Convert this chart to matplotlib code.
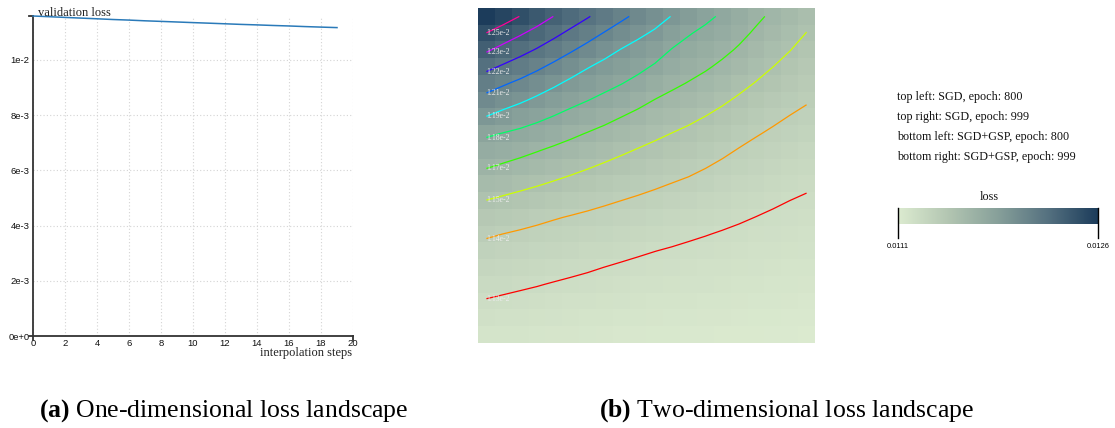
import numpy as np
import matplotlib
matplotlib.use("Agg")
import matplotlib.pyplot as plt
from matplotlib.colors import LinearSegmentedColormap, hsv_to_rgb

# ---------------- data: (a) one-dimensional loss landscape ----------------
steps = list(range(20))
val_loss = [0.011584, 0.011559, 0.011533, 0.011508, 0.011483, 0.011457, 0.011436, 0.011410, 0.011389, 0.011367,
            0.011345, 0.011324, 0.011302, 0.011280, 0.011262, 0.011241, 0.011223, 0.011201, 0.011182, 0.011164]
x_ticks = list(range(0, 21, 2))
y_ticks = [0, 0.002, 0.004, 0.006, 0.008, 0.010]
y_tick_labels = ["0e+0", "2e-3", "4e-3", "6e-3", "8e-3", "1e-2"]

# ---------------- data: (b) two-dimensional loss landscape ----------------
# loss = 0.011 + value * 1e-6, rows top -> bottom, columns left -> right
loss_rows = [
    [1610, 1546, 1481, 1413, 1345, 1282, 1221, 1161, 1102, 1045, 989, 934, 883, 832, 783, 735, 688, 644, 602, 560],
    [1482, 1422, 1363, 1304, 1244, 1183, 1126, 1069, 1013, 964, 921, 863, 812, 771, 737, 694, 649, 606, 567, 527],
    [1364, 1306, 1254, 1201, 1144, 1089, 1035, 981, 933, 894, 855, 797, 756, 724, 691, 652, 608, 568, 532, 495],
    [1244, 1195, 1148, 1099, 1048, 996, 946, 904, 868, 833, 789, 740, 708, 679, 644, 606, 566, 530, 496, 463],
    [1133, 1089, 1048, 1004, 958, 912, 873, 840, 806, 767, 724, 688, 659, 629, 594, 558, 524, 491, 459, 431],
    [1032, 993, 956, 915, 875, 838, 805, 771, 736, 698, 662, 634, 606, 576, 545, 513, 481, 451, 423, 401],
    [935, 896, 862, 830, 797, 763, 731, 698, 666, 635, 605, 579, 553, 527, 499, 468, 439, 412, 390, 372],
    [821, 797, 775, 749, 718, 688, 659, 632, 604, 576, 551, 527, 505, 481, 454, 425, 400, 379, 360, 344],
    [739, 719, 697, 671, 645, 620, 595, 571, 546, 522, 500, 479, 459, 437, 412, 387, 366, 348, 331, 316],
    [671, 648, 625, 602, 580, 558, 536, 513, 491, 471, 452, 434, 416, 396, 374, 353, 335, 318, 304, 291],
    [597, 576, 557, 538, 518, 498, 477, 457, 439, 423, 407, 391, 376, 358, 339, 321, 305, 291, 278, 267],
    [527, 509, 492, 474, 456, 438, 422, 407, 393, 379, 365, 351, 337, 322, 306, 292, 278, 267, 256, 247],
    [462, 446, 430, 415, 400, 387, 375, 363, 351, 338, 325, 313, 300, 288, 276, 265, 255, 245, 236, 228],
    [405, 392, 380, 368, 356, 345, 334, 323, 311, 300, 288, 278, 268, 259, 250, 242, 233, 225, 218, 211],
    [360, 349, 338, 328, 318, 308, 298, 287, 276, 266, 257, 249, 241, 234, 228, 221, 214, 207, 201, 195],
    [321, 311, 302, 293, 284, 274, 265, 255, 246, 238, 230, 224, 218, 213, 207, 202, 196, 190, 185, 180],
    [286, 277, 268, 260, 251, 243, 235, 228, 220, 213, 207, 202, 198, 193, 189, 184, 179, 174, 170, 165],
    [251, 243, 236, 229, 222, 216, 209, 203, 197, 191, 186, 182, 178, 174, 170, 166, 162, 158, 154, 151],
    [218, 212, 206, 201, 195, 190, 185, 180, 174, 169, 165, 162, 159, 155, 152, 149, 145, 142, 139, 136],
    [185, 181, 177, 172, 168, 164, 160, 156, 151, 147, 144, 141, 138, 136, 133, 131, 128, 125, 123, 120],
]
contour_levels = [0.011256, 0.011393, 0.011529, 0.011665, 0.011802, 0.011938, 0.012075, 0.012211, 0.012347, 0.012484]
contour_labels = ["1.13e-2", "1.14e-2", "1.15e-2", "1.17e-2", "1.18e-2", "1.19e-2", "1.21e-2", "1.22e-2", "1.23e-2", "1.25e-2"]
legend_lines = ["top left: SGD, epoch: 800", "top right: SGD, epoch: 999",
                "bottom left: SGD+GSP, epoch: 800", "bottom right: SGD+GSP, epoch: 999"]
cbar_min, cbar_max = "0.0111", "0.0126"
loss_min, loss_max = 0.01111, 0.01262

loss_grid = 0.011 + np.array(loss_rows, dtype=float) * 1e-6

# ---------------- figure ----------------
W, H = 1115, 428
plt.rcParams['font.family'] = 'Liberation Serif'
plt.rcParams['mathtext.fontset'] = 'custom'
plt.rcParams['mathtext.rm'] = 'Liberation Serif'
plt.rcParams['mathtext.bf'] = 'Liberation Serif:bold'
fig = plt.figure(figsize=(W / 100, H / 100), dpi=100)


def fx(px):
    return px / W


def fy(py):
    return 1 - py / H


# (a)
ax1 = fig.add_axes([fx(33), fy(336), 320 / W, 320 / H])
ax1.plot(steps, val_loss, color='#2a7ab9', lw=1.1, clip_on=False, zorder=3)
ax1.set_xlim(0, 20)
ax1.set_ylim(0, max(val_loss))
ax1.set_xticks(x_ticks)
ax1.set_yticks(y_ticks)
ax1.set_yticklabels(y_tick_labels)
ax1.grid(True, color='#d4d4d4', ls=(0, (1, 2)), lw=0.8)
ax1.tick_params(length=0, labelsize=6.8, pad=2.5, labelfontfamily='Liberation Sans', colors='#111')
for s in ['top', 'right']:
    ax1.spines[s].set_visible(False)
for s in ['left', 'bottom']:
    ax1.spines[s].set_color('#333')
    ax1.spines[s].set_linewidth(1.3)
tl = 4 / 320
for xs_, ys_ in [([-tl, 0], [1, 1]), ([-tl, 0], [0, 0]), ([0, 0], [0, -tl]), ([1, 1], [0, -tl])]:
    ax1.plot(xs_, ys_, transform=ax1.transAxes, color='#333', lw=1.3, clip_on=False)
fig.text(fx(38), fy(15.5), 'validation loss', fontsize=9, va='baseline', color='#222')
fig.text(fx(352), fy(356), 'interpolation steps', fontsize=9, va='baseline', ha='right', color='#222')

# (b)
cmap = LinearSegmentedColormap.from_list('loss', ['#dcebd0', '#b3c6b2', '#87a09a', '#557180', '#1c3c5b'])
ax2 = fig.add_axes([fx(478), fy(343), 337 / W, 335 / H])
n_r, n_c = loss_grid.shape
ax2.imshow(loss_grid, extent=(-0.5, n_c - 0.5, n_r - 0.5, -0.5), aspect='auto', cmap=cmap,
           vmin=loss_min, vmax=loss_max, interpolation='nearest')
cols = [hsv_to_rgb((k / len(contour_levels), 1, 1)) for k in range(len(contour_levels))]
cs = ax2.contour(np.arange(n_c), np.arange(n_r), loss_grid, levels=contour_levels, colors=cols, linewidths=0.9)
for path, lab in zip(cs.get_paths(), contour_labels):
    v = path.vertices
    if len(v) == 0:
        continue
    j = np.argmin(v[:, 0])
    ax2.text(v[j, 0], v[j, 1] + 0.12, lab, fontsize=5.6, color='#ececec', ha='left', va='baseline')
ax2.set_xlim(-0.5, n_c - 0.5)
ax2.set_ylim(n_r - 0.5, -0.5)
ax2.axis('off')

for i, t in enumerate(legend_lines):
    fig.text(fx(897), fy(100 + 20 * i), t, fontsize=8.7, va='baseline', color='#111')
fig.text(fx(989), fy(200.5), 'loss', fontsize=8.7, va='baseline', ha='center', color='#111')
cax = fig.add_axes([fx(898.3), fy(224), 200 / W, 16.3 / H])
cax.imshow(np.linspace(0, 1, 256)[None, :], aspect='auto', cmap=cmap, extent=(0, 1, 0, 1))
cax.axis('off')
for px in [898.3, 1098.3]:
    fig.add_artist(plt.Line2D([fx(px), fx(px)], [fy(207.7), fy(238.3)], color='black', lw=1.0))
fig.text(fx(898.3), fy(246), cbar_min, fontsize=5.4, ha='center', va='center', family='Liberation Sans')
fig.text(fx(1098.3), fy(246), cbar_max, fontsize=5.4, ha='center', va='center', family='Liberation Sans')

fig.text(fx(224), fy(417), r'$\mathbf{(a)}$ One-dimensional loss landscape', fontsize=18.5, ha='center', va='baseline')
fig.text(fx(787), fy(417), r'$\mathbf{(b)}$ Two-dimensional loss landscape', fontsize=18.5, ha='center', va='baseline')

fig.savefig("out.png")
